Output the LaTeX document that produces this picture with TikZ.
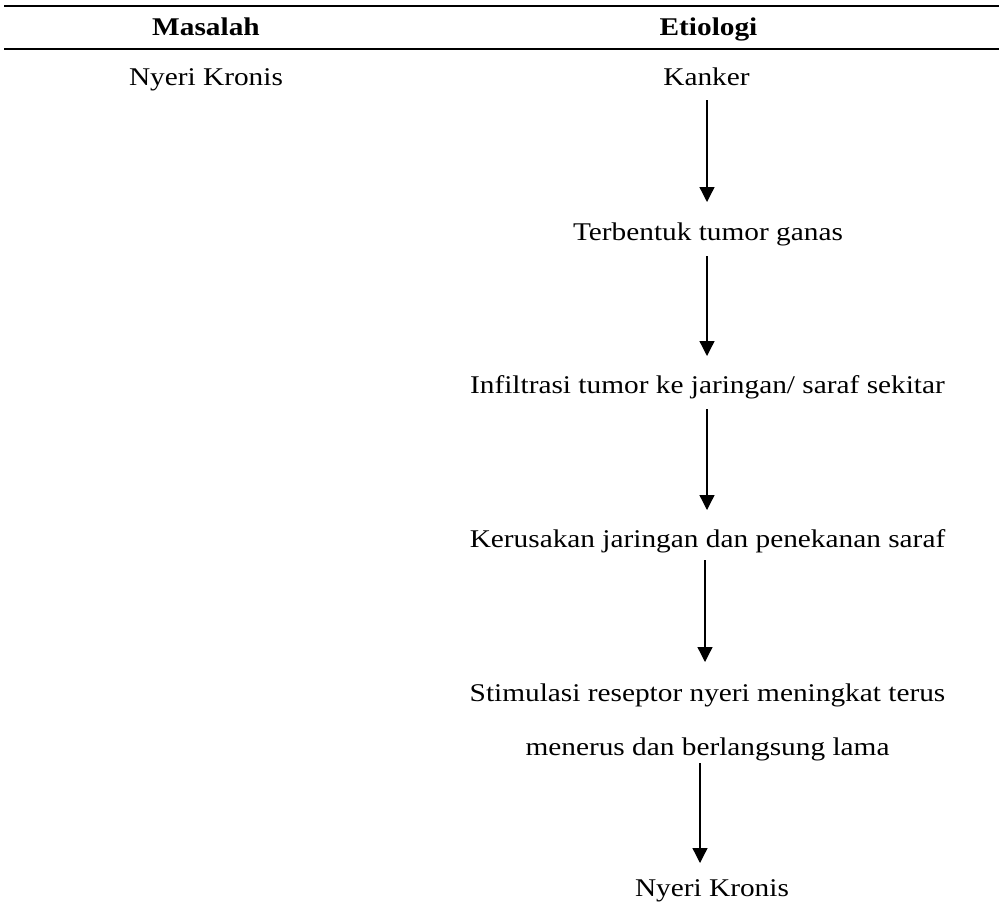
\documentclass[tikz,border=0pt]{standalone}
\usepackage{fontspec}
\setmainfont[FakeStretch=1.15]{Liberation Serif}
\usetikzlibrary{arrows.meta}
\begin{document}
\begin{tikzpicture}[x=1pt,y=-1pt,
  txt/.style={font=\fontsize{25.5}{30}\selectfont, inner sep=0pt, anchor=center, text height=0.7em, text depth=0.2em},
  hdr/.style={txt, font=\fontsize{25.5}{30}\selectfont\bfseries},
  rule/.style={line width=2pt},
  flow/.style={line width=1.3pt, -{Triangle[width=15pt,length=15pt]}}]
\useasboundingbox (0,0) rectangle (999,916);
\coordinate (r1a) at (4,6); \coordinate (r1b) at (999,6);
\coordinate (r2a) at (4,49); \coordinate (r2b) at (999,49);
\draw[rule] (r1a) -- (r1b);
\draw[rule] (r2a) -- (r2b);
\node[hdr] (h1) at (206,33) {Masalah};
\node[hdr] (h2) at (708.5,33) {Etiologi};
\node[txt] (m1) at (206,83) {Nyeri Kronis};
\node[txt] (e1) at (706.5,83) {Kanker};
\node[txt] (e2) at (708,238) {Terbentuk tumor ganas};
\node[txt] (e3) at (707.5,391) {Infiltrasi tumor ke jaringan/ saraf sekitar};
\node[txt] (e4) at (707.5,545) {Kerusakan jaringan dan penekanan saraf};
\node[txt] (e5) at (707.5,699) {Stimulasi reseptor nyeri meningkat terus};
\node[txt] (e5b) at (707.5,753) {menerus dan berlangsung lama};
\node[txt] (e6) at (712,894) {Nyeri Kronis};
\coordinate (a1s) at (707,100); \coordinate (a1e) at (707,202);
\coordinate (a2s) at (707,256); \coordinate (a2e) at (707,356);
\coordinate (a3s) at (707,409); \coordinate (a3e) at (707,510);
\coordinate (a4s) at (705,560); \coordinate (a4e) at (705,662);
\coordinate (a5s) at (700,763); \coordinate (a5e) at (700,863);
\draw[flow] (a1s) -- (a1e);
\draw[flow] (a2s) -- (a2e);
\draw[flow] (a3s) -- (a3e);
\draw[flow] (a4s) -- (a4e);
\draw[flow] (a5s) -- (a5e);
\end{tikzpicture}
\end{document}
